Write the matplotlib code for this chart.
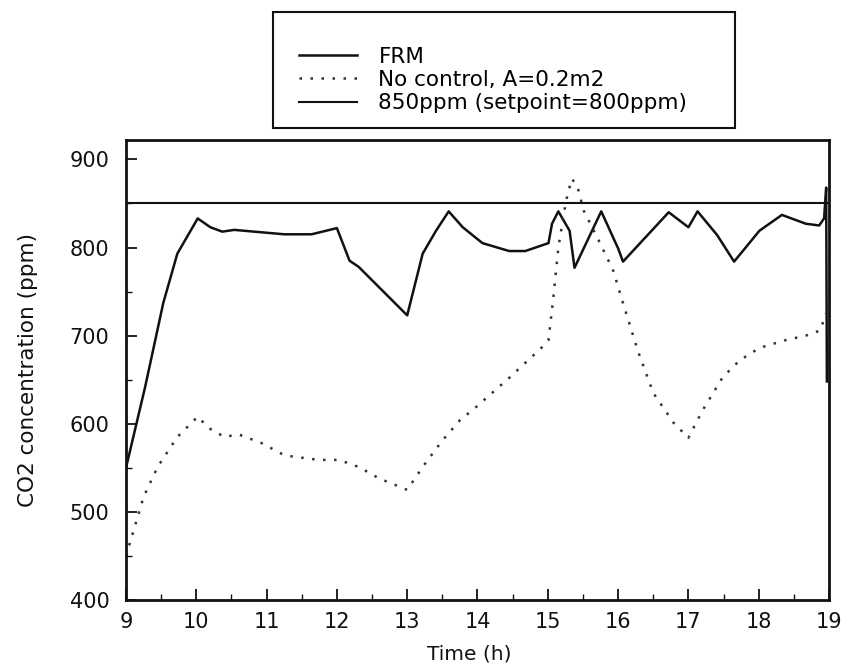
import matplotlib
matplotlib.use("Agg")
import matplotlib.pyplot as plt
from matplotlib.patches import Rectangle
from matplotlib.ticker import MultipleLocator

frm_t = [9.0, 9.27, 9.53, 9.73, 10.02, 10.2, 10.37, 10.54, 11.25, 11.64, 12.0, 12.18, 12.31,
         13.0, 13.22, 13.41, 13.59, 13.79, 14.07, 14.45, 14.68, 15.01, 15.06, 15.15, 15.31,
         15.38, 15.76, 16.0, 16.07, 16.72, 17.0, 17.13, 17.41, 17.65, 18.01, 18.33, 18.67,
         18.86, 18.93, 18.96, 18.97]
frm_y = [550, 641, 737, 793, 833, 823, 818, 820, 815, 815, 822, 785, 778,
         723, 793, 819, 841, 823, 805, 796, 796, 805, 827, 841, 819,
         777, 841, 799, 784, 840, 823, 841, 814, 784, 819, 837, 827,
         825, 833, 868, 648]

nc_t = [9.0, 9.25, 9.45, 9.73, 10.02, 10.18, 10.4, 10.6, 10.93, 11.26, 11.74, 12.03, 12.31,
        12.6, 13.0, 13.22, 13.5, 13.75, 13.98, 14.45, 14.92, 15.01, 15.08, 15.15, 15.26,
        15.34, 15.42, 15.51, 15.7, 15.93, 16.07, 16.28, 16.5, 16.79, 17.0, 17.2, 17.49,
        17.73, 18.01, 18.39, 18.67, 18.88, 18.95]
nc_y = [450, 517, 551, 585, 608, 595, 585, 588, 578, 564, 559, 559, 551,
        538, 525, 551, 581, 604, 619, 652, 687, 695, 744, 800, 853,
        878, 870, 842, 812, 774, 737, 683, 635, 601, 584, 615, 653,
        672, 686, 695, 700, 706, 725]

setpoint_t = [9.0, 19.0]
setpoint_y = [850, 850]

labels = ["FRM", "No control, A=0.2m2", "850ppm (setpoint=800ppm)"]
xticks = list(range(9, 20))
yticks = [400, 500, 600, 700, 800, 900]

plt.rcParams['font.family'] = ['DejaVu Sans']
fig = plt.figure(figsize=(8.44, 6.70), dpi=100)
ax = fig.add_axes([126/844, 1-600/670, (829-126)/844, (600-140)/670])

c = "#111111"
l1, = ax.plot(frm_t, frm_y, color=c, lw=1.8, label=labels[0])
l2, = ax.plot(nc_t, nc_y, color="#333333", lw=1.8, linestyle=(0, (1, 3.4)), label=labels[1])
l3, = ax.plot(setpoint_t, setpoint_y, color=c, lw=1.5, label=labels[2])

ax.set_xlim(9, 19)
ax.set_ylim(400, 922)
ax.set_xticks(xticks)
ax.set_yticks(yticks)
ax.xaxis.set_minor_locator(MultipleLocator(0.5))
ax.yaxis.set_minor_locator(MultipleLocator(50))
ax.tick_params(which='major', direction='in', length=8, width=1.3, labelsize=15, colors=c)
ax.tick_params(axis='y', which='major', pad=12)
ax.tick_params(axis='x', which='major', pad=9)
ax.tick_params(which='minor', direction='in', length=4, width=1.0, colors=c)
for s in ax.spines.values():
    s.set_linewidth(2)
    s.set_color(c)
ax.set_xlabel("Time (h)", fontsize=14.5, color=c)
ax.xaxis.set_label_coords((469-126)/703, -0.096)
ax.set_ylabel("CO2 concentration (ppm)", fontsize=15.5, color=c)
ax.yaxis.set_label_coords(-(126-38)/703, 0.5)

fig.patches.append(Rectangle((273/844, 1-128/670), (735-273)/844, (128-12)/670,
                             transform=fig.transFigure, fill=False, edgecolor=c, lw=1.5))
fig.legend(handles=[l1, l2, l3], labels=labels, frameon=False, loc='upper left',
           bbox_to_anchor=(288/844, 1-36/670), fontsize=15.5, handlelength=2.7,
           labelspacing=0.15, handletextpad=1.0, borderpad=0)

fig.savefig("out.png", dpi=100)
